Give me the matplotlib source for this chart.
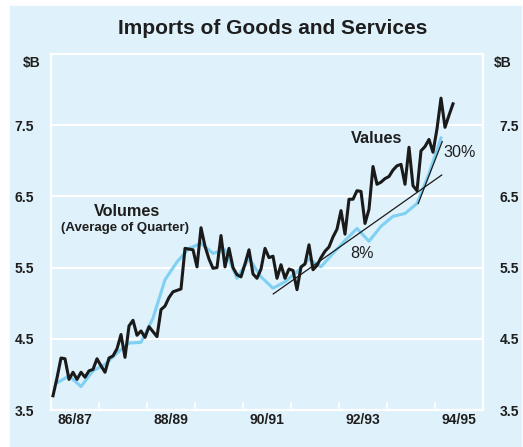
import numpy as np
import matplotlib
matplotlib.use("Agg")
import matplotlib.pyplot as plt
from matplotlib.patches import Rectangle

plt.rcParams['font.family'] = ['Liberation Sans', 'DejaVu Sans']

# monthly import values ($B), Jul 1986 onwards
values = [3.70, 3.95, 4.23, 4.22, 3.93, 4.03, 3.93, 4.03, 3.96, 4.05,
          4.07, 4.22, 4.12, 4.03, 4.23, 4.26, 4.36, 4.56, 4.24, 4.68,
          4.76, 4.55, 4.61, 4.52, 4.67, 4.60, 4.53, 4.91, 4.96, 5.08,
          5.16, 5.18, 5.20, 5.77, 5.76, 5.75, 5.51, 6.06, 5.80, 5.62,
          5.49, 5.50, 5.95, 5.51, 5.77, 5.50, 5.40, 5.37, 5.55, 5.75,
          5.41, 5.35, 5.48, 5.77, 5.64, 5.66, 5.35, 5.54, 5.35, 5.48,
          5.46, 5.19, 5.51, 5.55, 5.82, 5.47, 5.53, 5.64, 5.73, 5.79,
          5.93, 6.04, 6.30, 5.97, 6.46, 6.46, 6.58, 6.57, 6.12, 6.32,
          6.92, 6.67, 6.70, 6.75, 6.78, 6.87, 6.93, 6.95, 6.67, 7.19,
          6.65, 6.58, 7.14, 7.20, 7.30, 7.12, 7.45, 7.88, 7.47, 7.64,
          7.80]

# quarterly volumes (average of quarter), Sep qtr 1986 onwards
volumes = [3.88, 3.98, 3.83, 4.05, 4.14, 4.30, 4.44, 4.45, 4.79, 5.33,
           5.58, 5.77, 5.84, 5.70, 5.75, 5.35, 5.63, 5.37, 5.21, 5.30,
           5.44, 5.62, 5.51, 5.70, 5.88, 6.05, 5.87, 6.08, 6.22, 6.26,
           6.40, 6.82, 7.32]

# trend lines (start/end in years, value)
trend8_x = [1991.13, 1994.64]
trend8_y = [5.13, 6.80]
trend30_x = [1994.15, 1994.65]
trend30_y = [6.40, 7.27]

start = 1986.5
year_labels = ['86/87', '', '88/89', '', '90/91', '', '92/93', '', '94/95']
y_ticks = [3.5, 4.5, 5.5, 6.5, 7.5]

x_val = start + (np.arange(len(values)) + 0.5) / 12
x_vol = start + (np.arange(len(volumes)) * 3 + 1.5) / 12

bg = '#dff1fa'
txt = '#1e1e1e'

fig = plt.figure(figsize=(5.23, 4.47), dpi=100)
fig.patches.append(Rectangle((10 / 523, 0), 511 / 523, 441 / 447,
                             transform=fig.transFigure, color=bg, zorder=-5))

ax = fig.add_axes([51 / 523, 37 / 447, 432 / 523, 356 / 447])
ax.set_facecolor(bg)

ax.plot(x_vol, volumes, color='#7fd0f2', lw=2.2, zorder=3)
ax.plot(x_val, values, color='#1a1a1a', lw=2.2, zorder=4)
ax.plot(trend8_x, trend8_y, color='#1a1a1a', lw=0.9, zorder=5)
ax.plot(trend30_x, trend30_y, color='#1a1a1a', lw=0.9, zorder=5)

ax.set_xlim(start, start + 9)
ax.set_ylim(3.5, 8.5)

ax.set_xticks(start + np.arange(1, 9))
ax.set_xticklabels([])
ax.set_xticks(start + np.arange(9) + 0.5, minor=True)
ax.set_xticklabels(year_labels, minor=True)
ax.tick_params(axis='x', which='major', direction='in', length=6,
               width=1.2, color='white')
ax.tick_params(axis='x', which='minor', length=0, pad=2,
               labelsize=10, labelcolor=txt)
for lab in ax.get_xticklabels(minor=True):
    lab.set_fontweight('bold')

ax.set_yticks(y_ticks)
ax.set_yticklabels([f'{v:.1f}' for v in y_ticks])
ax.tick_params(axis='y', length=0, pad=12, labelsize=10, labelcolor=txt,
               labelright=True)
for lab in ax.get_yticklabels():
    lab.set_fontweight('bold')
ax.grid(axis='y', color='white', lw=1.5)
ax.set_axisbelow(True)

for s in ax.spines.values():
    s.set_color('white')
    s.set_linewidth(1.6)

ax.text(-0.045, 0.975, '$B', transform=ax.transAxes, ha='center', va='center',
        fontsize=10, fontweight='bold', color=txt)
ax.text(1.045, 0.975, '$B', transform=ax.transAxes, ha='center', va='center',
        fontsize=10, fontweight='bold', color=txt)

ax.text(1988.08, 6.29, 'Volumes', ha='center', va='center', fontsize=11.7,
        fontweight='bold', color=txt)
ax.text(1988.04, 6.05, '(Average of Quarter)', ha='center', va='center',
        fontsize=9.5, fontweight='bold', color=txt)
ax.text(1993.29, 7.31, 'Values', ha='center', va='center', fontsize=11.7,
        fontweight='bold', color=txt)
ax.text(1995.02, 7.12, '30%', ha='center', va='center', fontsize=11.6,
        color=txt)
ax.text(1992.98, 5.70, '8%', ha='center', va='center', fontsize=11.6,
        color=txt)

fig.text(273 / 523, 1 - 29 / 447, 'Imports of Goods and Services',
         ha='center', va='center', fontsize=15, fontweight='bold', color=txt)

fig.savefig('out.png', dpi=100)
